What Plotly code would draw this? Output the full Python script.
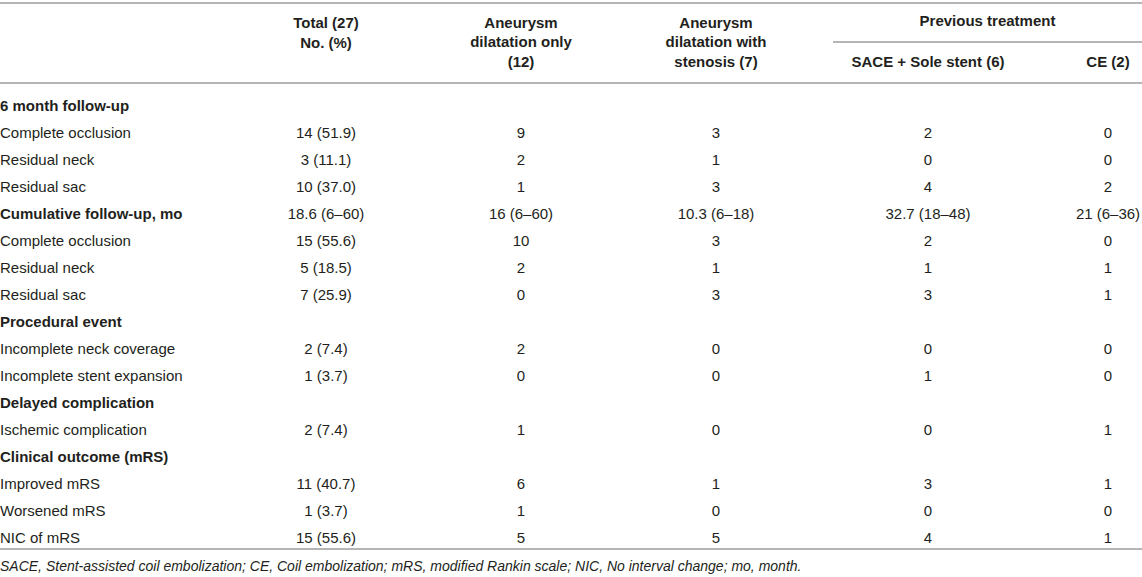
import plotly.graph_objects as go

# ---------------- data ----------------
row_labels = ["6 month follow-up", "Complete occlusion", "Residual neck", "Residual sac",
              "Cumulative follow-up, mo", "Complete occlusion", "Residual neck", "Residual sac",
              "Procedural event", "Incomplete neck coverage", "Incomplete stent expansion",
              "Delayed complication", "Ischemic complication",
              "Clinical outcome (mRS)", "Improved mRS", "Worsened mRS", "NIC of mRS"]
bold_rows = [0, 4, 8, 11, 13]
total = ["", "14 (51.9)", "3 (11.1)", "10 (37.0)", "18.6 (6–60)", "15 (55.6)", "5 (18.5)", "7 (25.9)",
         "", "2 (7.4)", "1 (3.7)", "", "2 (7.4)", "", "11 (40.7)", "1 (3.7)", "15 (55.6)"]
dilatation_only = ["", "9", "2", "1", "16 (6–60)", "10", "2", "0",
                   "", "2", "0", "", "1", "", "6", "1", "5"]
with_stenosis = ["", "3", "1", "3", "10.3 (6–18)", "3", "1", "3",
                 "", "0", "0", "", "0", "", "1", "0", "5"]
sace_sole = ["", "2", "0", "4", "32.7 (18–48)", "2", "1", "3",
             "", "0", "1", "", "0", "", "3", "0", "4"]
ce_only = ["", "0", "0", "2", "21 (6–36)", "0", "1", "1",
           "", "0", "0", "", "1", "", "1", "0", "1"]
columns = [total, dilatation_only, with_stenosis, sace_sole, ce_only]
headers = ["Total (27)<br>No. (%)", "Aneurysm<br>dilatation only<br>(12)",
           "Aneurysm<br>dilatation with<br>stenosis (7)", "SACE + Sole stent (6)", "CE (2)"]
group_header = "Previous treatment"
footnote = ("SACE, Stent-assisted coil embolization; CE, Coil embolization; mRS, modified Rankin scale; "
            "NIC, No interval change; mo, month.")

# ---------------- layout constants ----------------
W, H = 1142, 577
col_x = [326, 521, 716, 928, 1108]
header_y = [34, 43.5, 43.5, 63, 63]
row_y0, row_dy = 107, 27
FONT = "Liberation Sans, Arial, Helvetica, sans-serif"
TXT = "#231f20"
LINE = "#b5b5b5"
FS = 15

row_y = [row_y0 + i * row_dy for i in range(len(row_labels))]

fig = go.Figure()

# row labels
fig.add_trace(go.Scatter(
    x=[0] * len(row_labels), y=row_y, mode="text",
    text=[f"<b>{t}</b>" if i in bold_rows else t for i, t in enumerate(row_labels)],
    textposition="middle right", textfont=dict(family=FONT, size=FS, color=TXT),
    hoverinfo="skip", showlegend=False))

# value columns
for cx, vals in zip(col_x, columns):
    fig.add_trace(go.Scatter(
        x=[cx] * len(vals), y=row_y, mode="text", text=vals,
        textposition="middle center", textfont=dict(family=FONT, size=FS, color=TXT),
        hoverinfo="skip", showlegend=False))

# headers
fig.add_trace(go.Scatter(
    x=col_x, y=header_y, mode="text", text=[f"<b>{h}</b>" for h in headers],
    textposition="middle center", textfont=dict(family=FONT, size=FS, color=TXT),
    hoverinfo="skip", showlegend=False))
fig.add_trace(go.Scatter(
    x=[987.5], y=[22], mode="text", text=[f"<b>{group_header}</b>"],
    textposition="middle center", textfont=dict(family=FONT, size=FS, color=TXT),
    hoverinfo="skip", showlegend=False))

# footnote
fig.add_trace(go.Scatter(
    x=[0], y=[567], mode="text", text=[f"<i>{footnote}</i>"],
    textposition="middle right", textfont=dict(family=FONT, size=14, color=TXT),
    hoverinfo="skip", showlegend=False))

# rules
for (x0, x1, y) in [(0, W, 3), (0, W, 83), (833, W, 42), (0, W, 549)]:
    fig.add_shape(type="line", x0=x0, x1=x1, y0=y, y1=y, xref="x", yref="y",
                  line=dict(color=LINE, width=2))

fig.update_layout(
    width=W, height=H, margin=dict(l=0, r=0, t=0, b=0),
    paper_bgcolor="white", plot_bgcolor="white",
    xaxis=dict(range=[0, W], visible=False, fixedrange=True),
    yaxis=dict(range=[H, 0], visible=False, fixedrange=True),
)
fig.write_html("out.html", config={"displayModeBar": False},
               post_script="document.body.style.margin='0';document.body.style.overflow='hidden';")
